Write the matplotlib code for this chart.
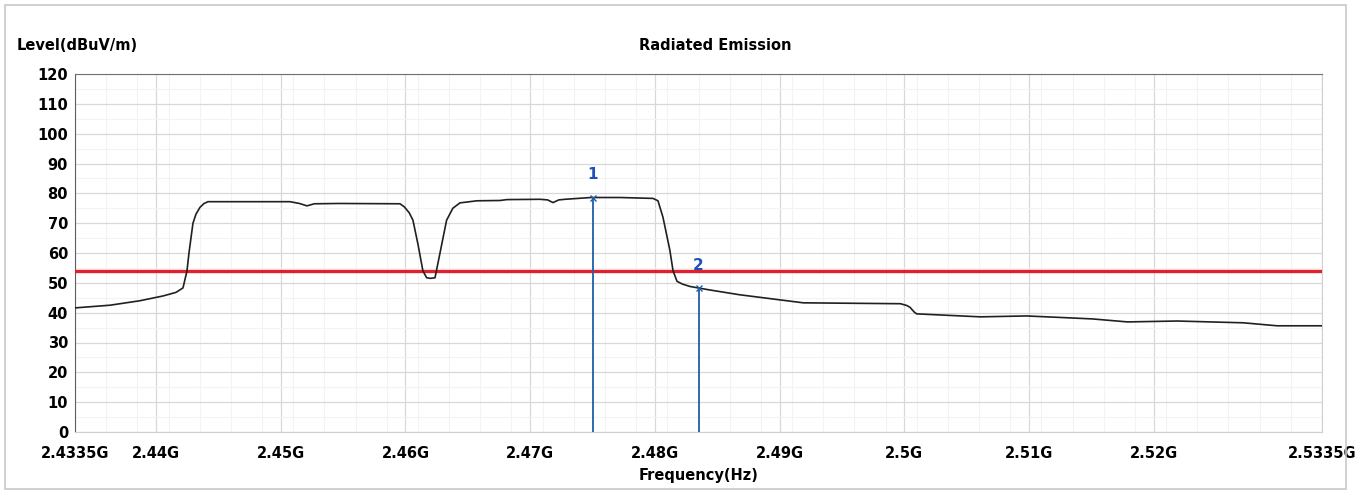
import matplotlib
matplotlib.use('Agg')
import matplotlib.pyplot as plt
from matplotlib.patches import Rectangle

plt.rcParams['font.family'] = ['DejaVu Sans']

# 측정 데이터 (MHz, dBuV/m)
freq_mhz = [2433.5, 2436.31, 2438.71, 2440.56, 2441.6, 2442.16, 2442.48, 2442.64,
            2442.96, 2443.2, 2443.52, 2443.85, 2444.17, 2450.74, 2451.5, 2452.1,
            2452.7, 2454.7, 2459.56, 2459.9, 2460.3, 2460.6, 2461.0, 2461.4,
            2461.7, 2462.0, 2462.37, 2462.77, 2463.3, 2463.8, 2464.37, 2465.74,
            2467.58, 2468.14, 2470.79, 2471.4, 2471.83, 2472.3, 2472.79, 2474.88,
            2477.2, 2479.85, 2480.25, 2480.65, 2481.0, 2481.2, 2481.46, 2481.78,
            2482.2, 2482.8, 2483.46, 2484.42, 2486.8, 2491.9, 2499.7, 2500.2,
            2500.46, 2500.8, 2501.0, 2506.1, 2509.8, 2512.5, 2515.1, 2517.9,
            2521.9, 2527.2, 2529.9, 2533.5]
level = [41.6, 42.5, 44.0, 45.6, 46.8, 48.3, 54.0, 60.0,
         70.0, 73.0, 75.3, 76.6, 77.2, 77.2, 76.6, 75.8,
         76.5, 76.6, 76.5, 75.5, 73.5, 71.0, 63.0, 54.0,
         51.7, 51.5, 51.7, 60.0, 71.0, 75.0, 76.8, 77.5,
         77.6, 77.9, 78.0, 77.8, 76.9, 77.8, 78.0, 78.6,
         78.6, 78.3, 77.5, 72.0, 65.0, 61.0, 54.0, 50.5,
         49.6, 48.8, 48.3, 47.6, 46.0, 43.3, 43.0, 42.4,
         41.8, 40.2, 39.6, 38.6, 38.9, 38.4, 37.9, 36.9,
         37.2, 36.6, 35.6, 35.6]

limit = 54.0

marker_freq = [2475.0, 2483.5]
marker_level = [78.6, 48.3]
marker_name = ['1', '2']

xtick_pos = [2433.5, 2440, 2450, 2460, 2470, 2480, 2490, 2500, 2510, 2520, 2533.5]
xtick_lab = ['2.4335G', '2.44G', '2.45G', '2.46G', '2.47G', '2.48G', '2.49G',
             '2.5G', '2.51G', '2.52G', '2.5335G']

fig = plt.figure(figsize=(13.68, 4.92), dpi=100)
fig.patch.set_facecolor('white')

# 바깥 테두리
fig.patches.append(Rectangle((0.004, 0.006), 0.98, 0.984, transform=fig.transFigure,
                             fill=False, edgecolor='#c8c8c8', linewidth=1.2))

ax = fig.add_axes([75/1368, 1 - 432/492, (1322 - 75)/1368, (432 - 74)/492])

# 격자
ax.set_xticks([2433.5 + 2.5 * i for i in range(1, 40)], minor=True)
ax.set_yticks(range(0, 121, 5), minor=True)
ax.grid(which='minor', color='#f3f3f3', linewidth=0.8)
ax.grid(which='major', color='#d8d8d8', linewidth=0.9)
ax.set_axisbelow(True)

ax.plot(freq_mhz, level, color='#202020', linewidth=1.2, zorder=4)
ax.axhline(limit, color='#e0202a', linewidth=2.4, zorder=3)

for f, v, n in zip(marker_freq, marker_level, marker_name):
    ax.vlines(f, 0, v, color='#1f5fa8', linewidth=1.3, zorder=5)
    ax.plot(f, v, marker='x', color='#1f5fa8', markersize=5, mew=1.0, zorder=6)
    ax.annotate(n, (f, v), xytext=(0, 11), textcoords='offset points',
                ha='center', va='bottom', color='#1f4fb8', fontsize=11,
                fontweight='bold')

ax.set_xlim(2433.5, 2533.5)
ax.set_ylim(0, 120)
ax.set_xticks(xtick_pos)
ax.set_xticklabels(xtick_lab)
ax.set_yticks(range(0, 121, 10))
ax.tick_params(which='both', length=0)
ax.tick_params(axis='x', pad=10)
ax.tick_params(axis='y', pad=5)
for lab in ax.get_xticklabels() + ax.get_yticklabels():
    lab.set_fontsize(10.5)
    lab.set_fontweight('bold')

ax.spines['left'].set_color('#606060')
ax.spines['top'].set_color('#707070')
ax.spines['right'].set_color('#d0d0d0')
ax.spines['bottom'].set_color('#d0d0d0')

ax.set_xlabel('Frequency(Hz)', fontsize=10.5, fontweight='bold', labelpad=5)
fig.text(17/1368, 1 - 46/492, 'Level(dBuV/m)', fontsize=10.5, fontweight='bold',
         ha='left', va='center')
fig.text(715/1368, 1 - 46/492, 'Radiated Emission', fontsize=10.5, fontweight='bold',
         ha='center', va='center')

fig.savefig('out.png', dpi=100, facecolor='white')
